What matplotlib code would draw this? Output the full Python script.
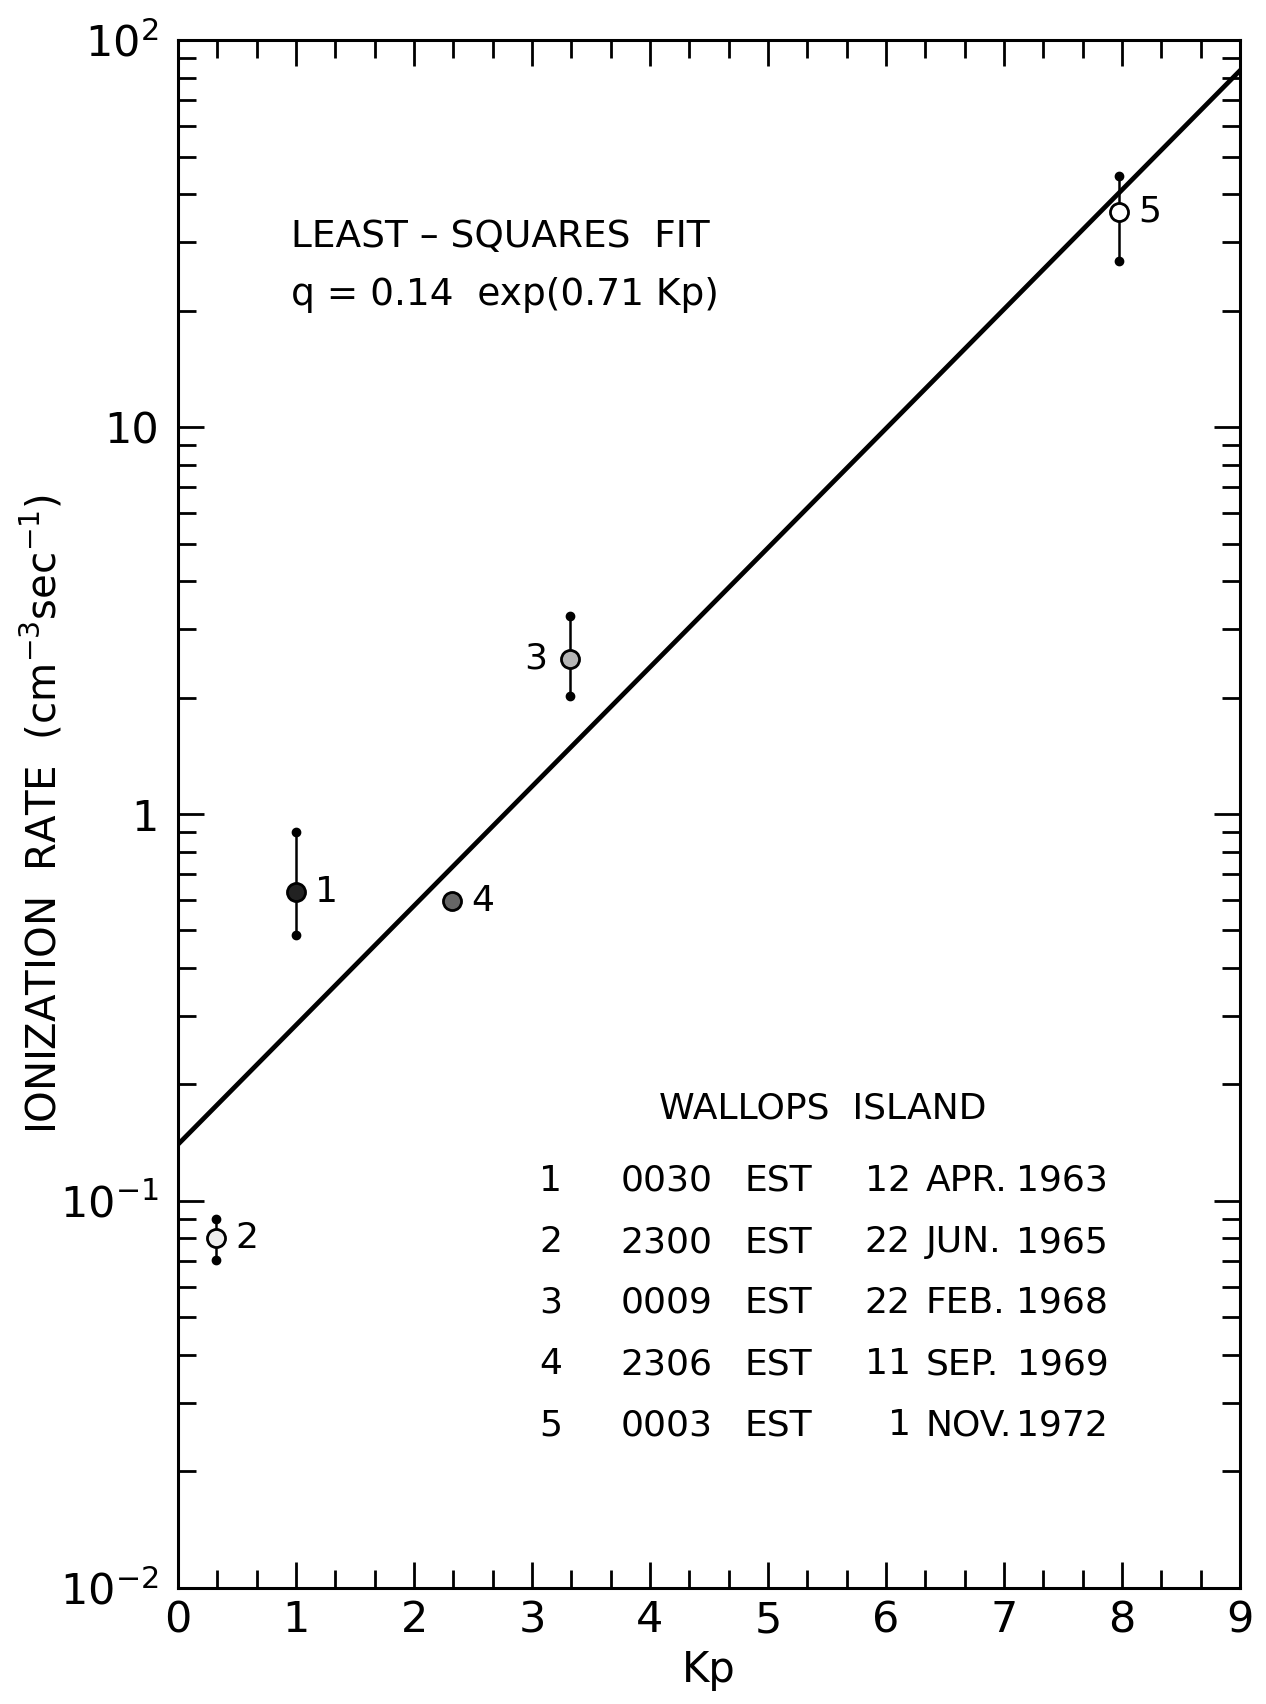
import numpy as np
import matplotlib
matplotlib.use('Agg')
import matplotlib.pyplot as plt
from matplotlib.ticker import LogLocator, FixedLocator, NullFormatter

# measured points (Kp, q, error low, error high)
labels = ['1', '2', '3', '4', '5']
kp = [1.0, 0.32, 3.32, 2.32, 7.97]
q = [0.627, 0.080, 2.52, 0.595, 36.0]
q_lo = [0.486, 0.0705, 2.02, None, 26.9]
q_hi = [0.898, 0.0899, 3.25, None, 44.4]
faces = ['#222222', '#eeeeee', '#b5b5b5', '#666666', 'white']

# least-squares fit parameters
fit_a = 0.14
fit_b = 0.71

# table of events
ev_num = ['1', '2', '3', '4', '5']
ev_time = ['0030', '2300', '0009', '2306', '0003']
ev_day = ['12', '22', '22', '11', '1']
ev_month = ['APR.', 'JUN.', 'FEB.', 'SEP.', 'NOV.']
ev_year = ['1963', '1965', '1968', '1969', '1972']

plt.rcParams['font.family'] = ['DejaVu Sans']
plt.rcParams['mathtext.fontset'] = 'dejavusans'

fig = plt.figure(figsize=(12.66, 17.04), dpi=100)
ax = fig.add_axes([0.1406, 0.0681, 0.8389, 0.9084])

# fit line
xs = np.linspace(0, 9, 200)
ax.plot(xs, fit_a * np.exp(fit_b * xs), color='black', lw=3.4, zorder=2)

# data points with error bars
for i in range(len(kp)):
    if q_lo[i] is not None:
        ax.plot([kp[i], kp[i]], [q_lo[i], q_hi[i]], color='black', lw=1.8, zorder=3)
        ax.plot([kp[i], kp[i]], [q_lo[i], q_hi[i]], 'o', color='black', ms=6, zorder=3)
    ax.plot(kp[i], q[i], 'o', ms=13, mfc=faces[i], mec='black', mew=2.0, zorder=4)

# point labels
offsets = {'1': (14, 0), '2': (14, 0), '3': (-16, 0), '4': (14, 0), '5': (14, 0)}
for i, lab in enumerate(labels):
    dx, dy = offsets[lab]
    ha = 'right' if dx < 0 else 'left'
    ax.annotate(lab, (kp[i], q[i]), xytext=(dx, dy), textcoords='offset points',
                ha=ha, va='center', fontsize=26)

ax.set_yscale('log')
ax.set_xlim(0, 9)
ax.set_ylim(1e-2, 1e2)

ax.set_xticks(range(0, 10))
ax.set_xticklabels([str(v) for v in range(0, 10)])
ax.xaxis.set_minor_locator(FixedLocator([i / 3 for i in range(28) if i % 3 != 0]))
ax.yaxis.set_major_locator(FixedLocator([1e-2, 1e-1, 1, 10, 100]))
ax.set_yticklabels([r'$10^{-2}$', r'$10^{-1}$', '1', '10', r'$10^{2}$'])
ax.yaxis.set_minor_locator(LogLocator(base=10, subs=np.arange(2, 10), numticks=20))
ax.yaxis.set_minor_formatter(NullFormatter())

ax.tick_params(which='both', direction='in', top=True, right=True, width=2.0, color='black')
ax.tick_params(which='major', length=19)
ax.tick_params(which='minor', length=13)
ax.tick_params(axis='x', which='major', labelsize=31, pad=8)
ax.tick_params(axis='y', which='major', labelsize=31, pad=14)
for sp in ax.spines.values():
    sp.set_linewidth(2.2)

ax.set_xlabel('Kp', fontsize=30, labelpad=6)
ax.set_ylabel(r'IONIZATION  RATE  (cm$^{-3}$sec$^{-1}$)', fontsize=29)
ax.yaxis.set_label_coords(-0.106, 0.5)

# fit annotation
ax.text(0.106, 0.866, 'LEAST – SQUARES  FIT', transform=ax.transAxes, fontsize=27,
        ha='left', va='baseline')
ax.text(0.106, 0.829, 'q = 0.14  exp(0.71 Kp)', transform=ax.transAxes, fontsize=27,
        ha='left', va='baseline')

# station table
ax.text(0.607, 0.303, 'WALLOPS  ISLAND', transform=ax.transAxes, fontsize=26,
        ha='center', va='baseline')
row_y = [0.2565, 0.217, 0.1777, 0.138, 0.0988]
for i in range(len(ev_num)):
    y = row_y[i]
    ax.text(0.351, y, ev_num[i], transform=ax.transAxes, fontsize=26, ha='center', va='baseline')
    ax.text(0.4167, y, ev_time[i], transform=ax.transAxes, fontsize=26, ha='left', va='baseline')
    ax.text(0.533, y, 'EST', transform=ax.transAxes, fontsize=26, ha='left', va='baseline')
    ax.text(0.690, y, ev_day[i], transform=ax.transAxes, fontsize=26, ha='right', va='baseline')
    ax.text(0.704, y, ev_month[i], transform=ax.transAxes, fontsize=26, ha='left', va='baseline')
    ax.text(0.876, y, ev_year[i], transform=ax.transAxes, fontsize=26, ha='right', va='baseline')

fig.savefig('out.png', dpi=100, facecolor='white')
